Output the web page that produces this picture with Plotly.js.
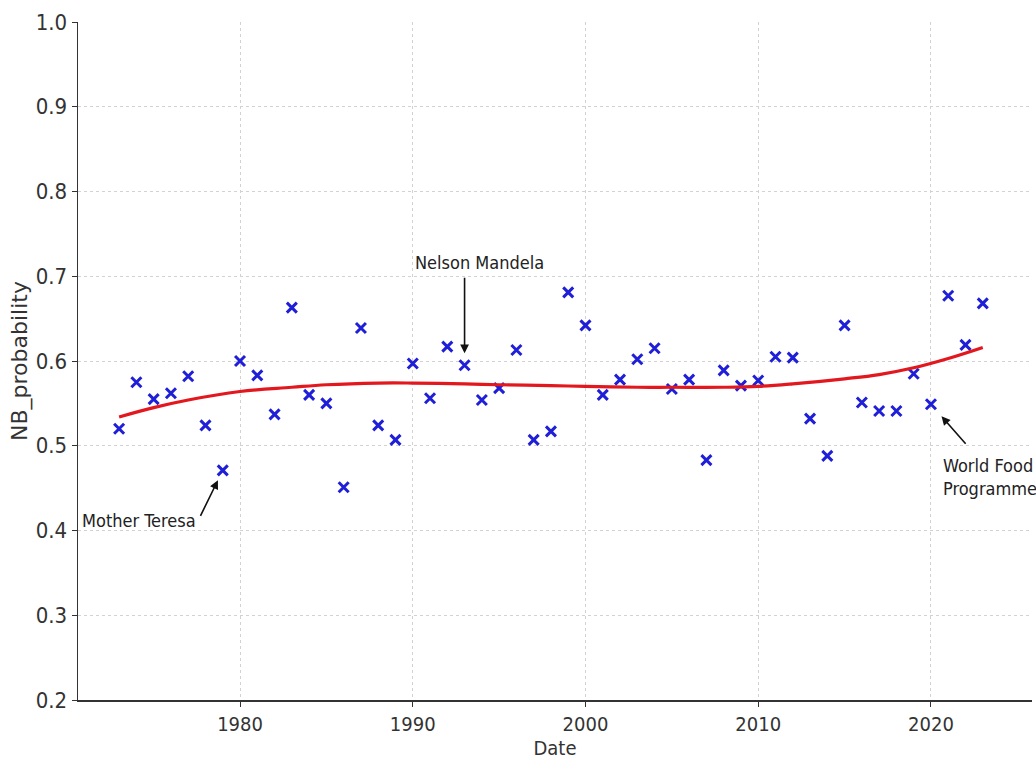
<!DOCTYPE html>
<html><head><meta charset="utf-8">
<script src="https://cdn.plot.ly/plotly-3.0.1.min.js"></script>
<style>html,body{margin:0;padding:0;background:#fff}#chart{width:1036px;height:762px}</style>
</head><body><div id="chart"></div>
<script>
const years = [1973,1974,1975,1976,1977,1978,1979,1980,1981,1982,1983,1984,1985,1986,1987,1988,1989,1990,1991,1992,1993,1994,1995,1996,1997,1998,1999,2000,2001,2002,2003,2004,2005,2006,2007,2008,2009,2010,2011,2012,2013,2014,2015,2016,2017,2018,2019,2020,2021,2022,2023];
const probability = [0.520,0.575,0.555,0.562,0.582,0.524,0.471,0.600,0.583,0.537,0.663,0.560,0.550,0.451,0.639,0.524,0.507,0.597,0.556,0.617,0.595,0.554,0.568,0.613,0.507,0.517,0.681,0.642,0.560,0.578,0.602,0.615,0.567,0.578,0.483,0.589,0.571,0.577,0.605,0.604,0.532,0.488,0.642,0.551,0.541,0.541,0.585,0.549,0.677,0.619,0.668];
const fitYears = [1973,1975,1977,1980,1983,1985,1988,1990,1993,1995,1998,2000,2003,2005,2008,2010,2012,2015,2017,2019,2021,2023];
const fitValues = [0.534,0.545,0.554,0.564,0.569,0.572,0.574,0.574,0.573,0.572,0.571,0.570,0.569,0.569,0.569,0.570,0.573,0.579,0.584,0.592,0.603,0.616];
const xTickValues = [1980,1990,2000,2010,2020];
const yTickValues = [0.2,0.3,0.4,0.5,0.6,0.7,0.8,0.9,1.0];
const yTickLabels = ["0.2","0.3","0.4","0.5","0.6","0.7","0.8","0.9","1.0"];
const annotatedNames = ["Mother Teresa","Nelson Mandela","World Food<br>Programme"];
const annotatedYears = [1979,1993,2020];

const valueAt = yr => probability[years.indexOf(yr)];
const condensed = "DejaVu Sans Condensed, sans-serif";

const traces = [
  {x: years, y: probability, type: 'scatter', mode: 'markers', showlegend: false,
   marker: {symbol: 'x-thin-open', size: 10, color: '#1f1fd8', line: {width: 3, color: '#1f1fd8'}}},
  {x: fitYears, y: fitValues, type: 'scatter', mode: 'lines', showlegend: false,
   line: {color: '#e3171e', width: 3.2, shape: 'spline', smoothing: 1.1}}
];

// arrow geometry (pixels) and text offsets for each annotated point
const arrowStyle = [
  {ax: -23, ay: 47, standoff: 11},
  {ax: 0, ay: -89, standoff: 12},
  {ax: 36, ay: 41, standoff: 16}
];
const textStyle = [
  {xshift: -25, yshift: -50, xanchor: 'right', yanchor: 'middle', align: 'right'},
  {xshift: 15, yshift: 103, xanchor: 'center', yanchor: 'middle', align: 'center'},
  {xshift: 10, yshift: -73, xanchor: 'left', yanchor: 'middle', align: 'left'}
];
const annotations = [];
annotatedYears.forEach((yr, i) => {
  annotations.push(Object.assign({x: yr, y: valueAt(yr), xref: 'x', yref: 'y', text: '',
    showarrow: true, arrowhead: 2, arrowsize: 1.1, arrowwidth: 1.6, arrowcolor: '#111'}, arrowStyle[i]));
  annotations.push(Object.assign({x: yr, y: valueAt(yr), xref: 'x', yref: 'y', text: annotatedNames[i],
    showarrow: false, font: {family: condensed, size: 18, color: '#222'}}, textStyle[i]));
});

const layout = {
  width: 1036, height: 762,
  margin: {l: 78, r: 4, t: 22, b: 62},
  paper_bgcolor: '#fff', plot_bgcolor: '#fff',
  xaxis: {range: [1970.62, 2025.85], tickvals: xTickValues, ticktext: xTickValues.map(String),
    showline: true, linecolor: '#333', linewidth: 1.5, ticks: 'outside', ticklen: 5, tickcolor: '#333',
    showgrid: true, gridcolor: '#d2d2d2', griddash: 'dot', gridwidth: 1, zeroline: false,
    tickfont: {family: condensed, size: 20, color: '#333'},
    title: {text: 'Date', font: {family: condensed, size: 20, color: '#333'}, standoff: 4}},
  yaxis: {range: [0.2, 1.0], tickvals: yTickValues, ticktext: yTickLabels,
    showline: true, linecolor: '#333', linewidth: 1.5, ticks: 'outside', ticklen: 5, tickcolor: '#333',
    showgrid: true, gridcolor: '#d2d2d2', griddash: 'dot', gridwidth: 1, zeroline: false,
    tickfont: {family: condensed, size: 22, color: '#333'},
    title: {text: 'NB_probability', font: {family: 'DejaVu Sans, sans-serif', size: 22, color: '#333'}, standoff: 2}},
  annotations: annotations
};

Plotly.newPlot('chart', traces, layout, {staticPlot: true, displayModeBar: false});
</script>
</body></html>
